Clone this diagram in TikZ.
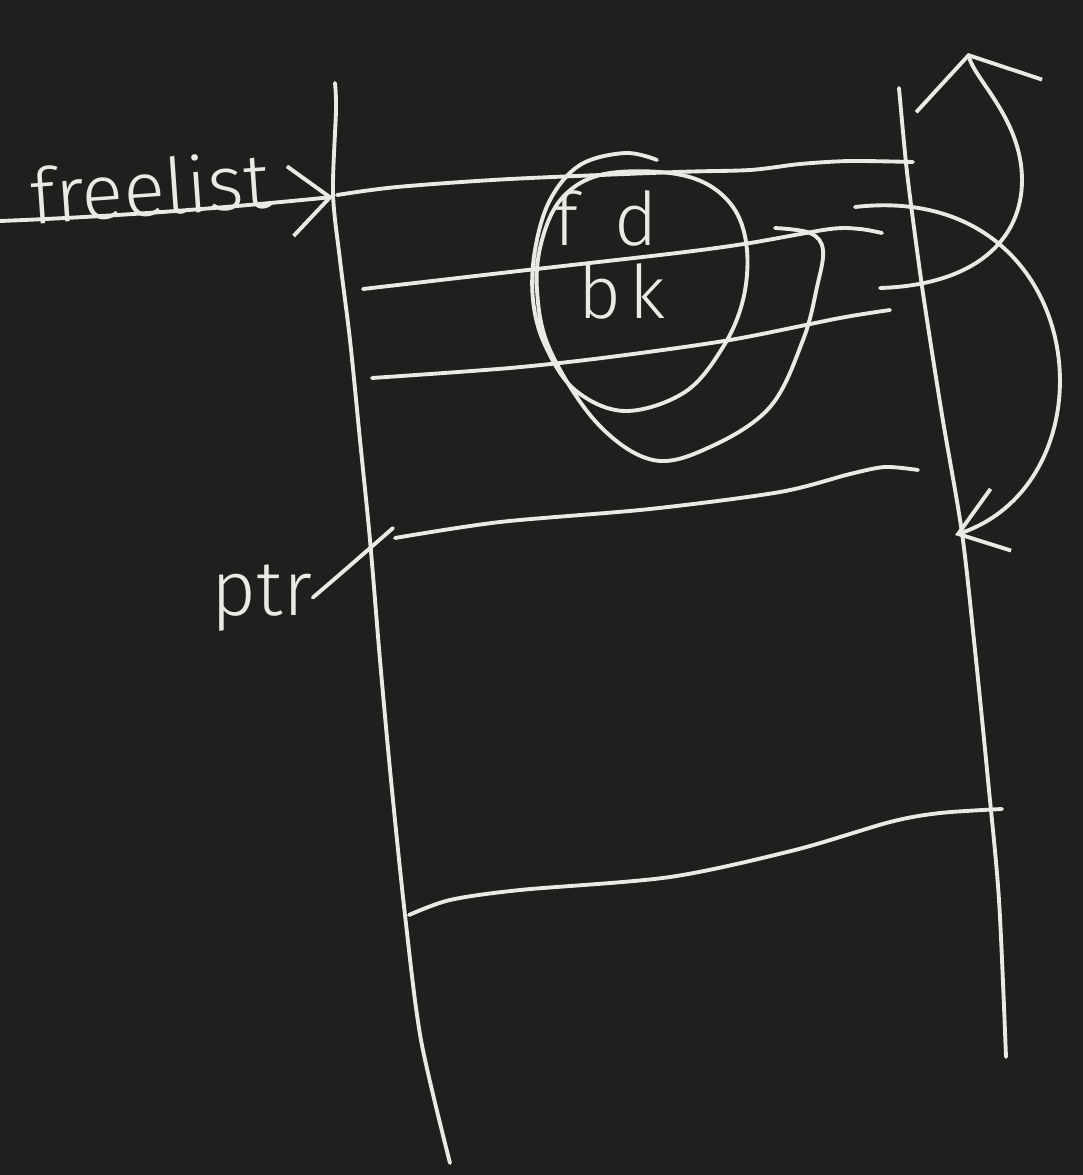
\documentclass[tikz,border=0pt]{standalone}
\usepackage{fontspec}
\newfontfamily\handfont{Fira Sans}[UprightFont={* Light}]
\usetikzlibrary{arrows.meta}
\definecolor{boardbg}{RGB}{31,31,29}
\definecolor{chalk}{RGB}{234,234,228}

\begin{document}
\begin{tikzpicture}[
    x=0.01cm, y=-0.01cm,
    chalkline/.style={draw=chalk, line width=1.1pt, line cap=round, line join=round},
    lbl/.style={text=chalk, inner sep=0pt, font=\handfont\fontsize{#1}{#1}\selectfont},
]
\fill[boardbg] (0,0) rectangle (1083,1175);
\useasboundingbox (0,0) rectangle (1083,1175);

% block walls
\draw[chalkline] plot[smooth] coordinates {(335,83) (336,110) (333,193) (340,260) (350,340) (360,440) (370,540) (380,660) (391,780) (405,915) (421,1040) (450,1163)};
\draw[chalkline] plot[smooth] coordinates {(899,88) (906,163) (913,220) (924,300) (942,415) (962,533) (975,650) (988,780) (999,900) (1006,1057)};

% rows
\draw[chalkline] plot[smooth] coordinates {(337,195) (397,187) (510,179) (677,172) (750,170) (800,164) (850,161) (913,162)};
\draw[chalkline] plot[smooth] coordinates {(363,289) (510,272) (677,253) (750,243) (830,229) (860,229) (882,233)};
\draw[chalkline] plot[smooth] coordinates {(372,378) (510,368) (610,357) (730,340) (840,318) (890,310)};
\draw[chalkline] plot[smooth] coordinates {(395,538) (500,522) (650,509) (780,492) (850,474) (885,467) (918,470)};
\draw[chalkline] plot[smooth] coordinates {(409,915) (450,900) (520,890) (670,877) (795,850) (890,822) (940,813) (1002,809)};

% circled fd / bk fields
\draw[chalkline] plot[smooth, tension=0.6] coordinates {(657,160) (625,153) (580,165) (550,200) (535,250) (533,300) (545,345) (575,390) (625,411) (685,392) (723,347) (743,300) (747,250) (735,210) (705,183) (660,172) (600,175) (562,198) (542,240) (537,290) (550,350) (597,423) (653,460) (710,447) (770,407) (803,340) (817,287) (823,250) (810,233) (775,228)};

% labels
\node[lbl=22, rotate=4, anchor=base] (freelist) at (152,216) {freelist};
\node[lbl=21, anchor=base] (fd) at (606,245) {f\hspace{0.5em}d};
\node[lbl=21, anchor=base] (bk) at (622,318) {b\hspace{0.12em}k};
\node[lbl=22, anchor=base] (ptr) at (262,615) {ptr};

\coordinate (flstart) at (0,221);
\coordinate (fltip) at (333,197);
\coordinate (ptrtip) at (393,528);
\coordinate (bkout) at (880,288);
\coordinate (bktip) at (968,53);
\coordinate (fdout) at (855,207);
\coordinate (fdtip) at (955,535);

% pointers
\draw[chalkline, -{Straight Barb[length=4mm, width=7mm]}] (flstart) .. controls (150,215) and (250,205) .. (fltip);
\draw[chalkline] (ptr.east) .. controls (345,570) .. (ptrtip);
\draw[chalkline, -{Straight Barb[length=4.2mm, width=13mm]}] (bkout) .. controls (975,285) and (1022,240) .. (1022,180) .. controls (1022,120) and (975,80) .. (bktip);
\draw[chalkline, -{Straight Barb[length=4.5mm, width=6.5mm]}] (fdout) .. controls (1090,180) and (1120,480) .. (fdtip);
\end{tikzpicture}
\end{document}
